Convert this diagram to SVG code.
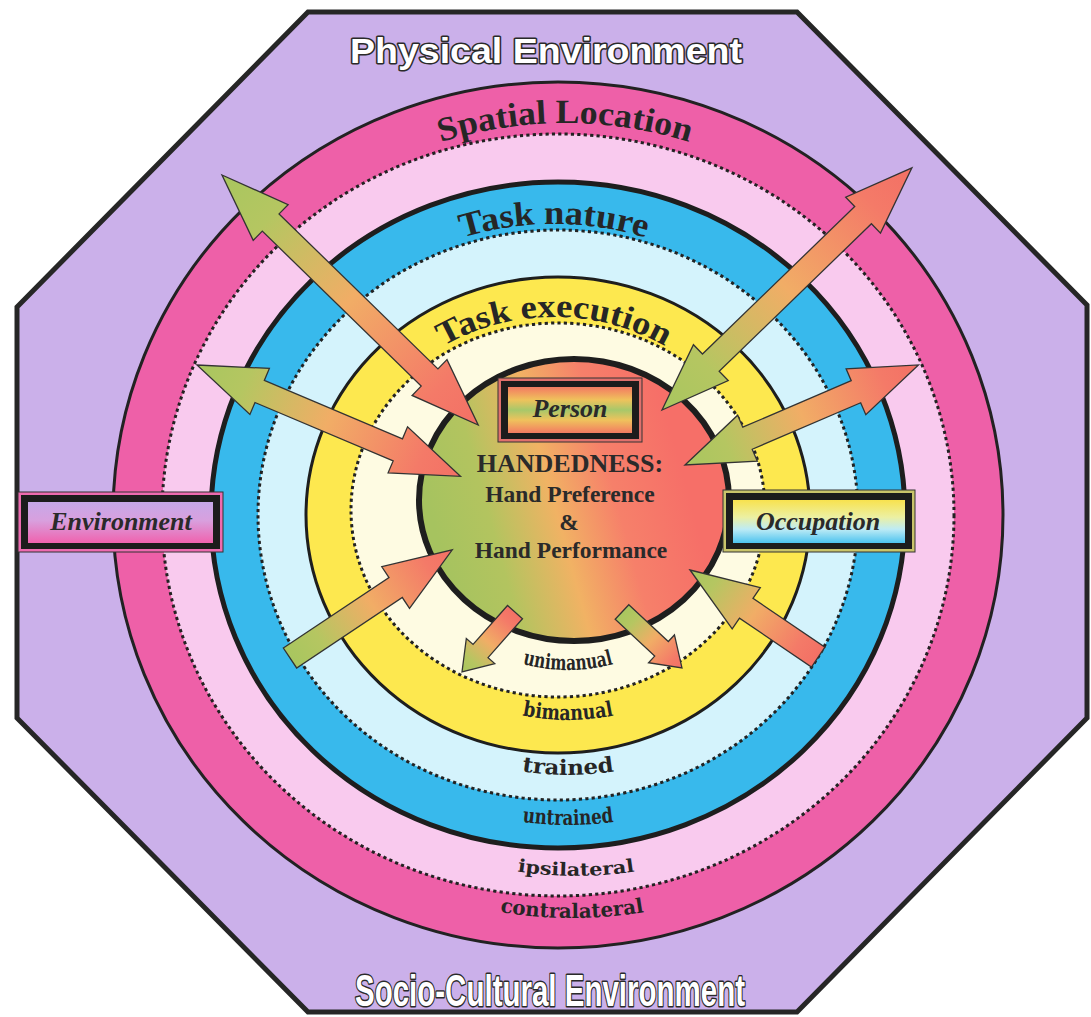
<svg xmlns="http://www.w3.org/2000/svg" width="1091" height="1017" viewBox="0 0 1091 1017">
<defs>
<style>
.dot{fill:none;stroke:#222;stroke-width:3;stroke-dasharray:3.2 3.2}
.ring{font-family:"Liberation Serif","Times New Roman",serif;font-weight:bold;fill:#262626}
.lbl{font-family:"DejaVu Serif","Liberation Serif",serif;font-weight:bold;fill:#262626}
.ctr{font-family:"Liberation Serif","Times New Roman",serif;font-weight:bold;fill:#2a2a2a;text-anchor:middle}
.box{font-family:"Liberation Serif","Times New Roman",serif;font-weight:bold;font-style:italic;fill:#2a2a2a;text-anchor:middle;font-size:26px}
.title{font-family:"Liberation Sans",Arial,sans-serif;font-weight:bold;fill:#fff;stroke:#2a2a2a;stroke-width:3;paint-order:stroke;stroke-linejoin:round}
.arrow{fill:url(#arrowGrad);stroke:#333;stroke-width:1.3;stroke-linejoin:miter}
</style>
<linearGradient id="arrowGrad" x1="0" y1="0" x2="1" y2="0">
<stop offset="0" stop-color="#A8C65F"/>
<stop offset="0.18" stop-color="#B5C661"/>
<stop offset="0.5" stop-color="#F1AD66"/>
<stop offset="0.85" stop-color="#F47A68"/>
<stop offset="1" stop-color="#F37065"/>
</linearGradient>
<linearGradient id="circleGrad" x1="0.05" y1="0.6" x2="0.85" y2="0.4">
<stop offset="0" stop-color="#A6C35F"/>
<stop offset="0.22" stop-color="#B3C45F"/>
<stop offset="0.48" stop-color="#F1B264"/>
<stop offset="0.72" stop-color="#F6806A"/>
<stop offset="1" stop-color="#F66F68"/>
</linearGradient>
<linearGradient id="personGrad" x1="0" y1="0" x2="0" y2="1">
<stop offset="0" stop-color="#F37A62"/>
<stop offset="0.28" stop-color="#EFC25C"/>
<stop offset="0.5" stop-color="#A7C86A"/>
<stop offset="0.72" stop-color="#EFC25C"/>
<stop offset="1" stop-color="#F37A62"/>
</linearGradient>
<linearGradient id="envGrad" x1="0" y1="0" x2="0" y2="1">
<stop offset="0" stop-color="#C6A8E8"/>
<stop offset="0.45" stop-color="#D8A0DE"/>
<stop offset="1" stop-color="#F062AE"/>
</linearGradient>
<linearGradient id="occGrad" x1="0" y1="0" x2="0" y2="1">
<stop offset="0" stop-color="#F8E24E"/>
<stop offset="0.4" stop-color="#ECF0A2"/>
<stop offset="0.68" stop-color="#BDEBF5"/>
<stop offset="1" stop-color="#4CC3EF"/>
</linearGradient>
<path id="pSpatial" d="M161,515 A404,392 0 0 1 969,515"/>
<path id="pNature" d="M251,515 A303,291 0 0 1 857,515"/>
<path id="pExec" d="M342,515 A212,198 0 0 1 766,515"/>
<path id="pUni" d="M403,515 A165,155 0 0 0 733,515"/>
<path id="pBi" d="M351,515 A217,205 0 0 0 785,515"/>
<path id="pTr" d="M294,515 A274,260 0 0 0 842,515"/>
<path id="pUntr" d="M243,515 A325,310 0 0 0 893,515"/>
<path id="pIpsi" d="M199,515 A377,361 0 0 0 953,515"/>
<path id="pContra" d="M155,515 A417,403 0 0 0 989,515"/>
</defs>

<g id="physical-environment">
<polygon points="308,12 797,12 1087,305 1087,718 797,1012 308,1012 17,718 17,307" fill="#CBB0EA" stroke="#262626" stroke-width="5" stroke-linejoin="miter"/>
<text class="title" x="546" y="63" font-size="35" text-anchor="middle" textLength="392" lengthAdjust="spacingAndGlyphs">Physical Environment</text>
<text class="title" x="550" y="1006" font-size="45" text-anchor="middle" textLength="390" lengthAdjust="spacingAndGlyphs">Socio-Cultural Environment</text>
</g>

<g id="spatial-location">
<ellipse cx="558" cy="515" rx="445" ry="433" fill="#EE60A8" stroke="#222" stroke-width="3"/>
<ellipse cx="558" cy="515" rx="396" ry="381" fill="#F9CAEE"/>
<ellipse class="dot" cx="558" cy="515" rx="396" ry="381"/>
<text class="ring" font-size="34"><textPath href="#pSpatial" startOffset="50%" text-anchor="middle" textLength="252" lengthAdjust="spacingAndGlyphs">Spatial Location</textPath></text>
<text class="lbl" font-size="18"><textPath href="#pIpsi" startOffset="50%" text-anchor="middle" textLength="118" lengthAdjust="spacingAndGlyphs">ipsilateral</textPath></text>
<text class="lbl" font-size="20"><textPath href="#pContra" startOffset="50%" text-anchor="middle" textLength="145" lengthAdjust="spacingAndGlyphs">contralateral</textPath></text>
</g>

<g id="task-nature">
<ellipse cx="558" cy="515" rx="347" ry="333" fill="#38B9EC" stroke="#1e1e1e" stroke-width="5"/>
<ellipse cx="558" cy="515" rx="300" ry="285" fill="#D4F3FC"/>
<ellipse class="dot" cx="558" cy="515" rx="300" ry="285"/>
<text class="ring" font-size="34"><textPath href="#pNature" startOffset="50%" text-anchor="middle" textLength="186" lengthAdjust="spacingAndGlyphs">Task nature</textPath></text>
<text class="lbl" font-size="21"><textPath href="#pTr" startOffset="50%" text-anchor="middle" textLength="93" lengthAdjust="spacingAndGlyphs">trained</textPath></text>
<text class="lbl" font-size="21"><textPath href="#pUntr" startOffset="50%" text-anchor="middle" textLength="92" lengthAdjust="spacingAndGlyphs">untrained</textPath></text>
</g>

<g id="task-execution">
<ellipse cx="558" cy="515" rx="252" ry="238" fill="#FDE84F" stroke="#1e1e1e" stroke-width="3"/>
<ellipse cx="558" cy="510" rx="207" ry="187" fill="#FEFBE2"/>
<ellipse class="dot" cx="558" cy="510" rx="207" ry="187"/>
<text class="ring" font-size="33"><textPath href="#pExec" startOffset="50%" text-anchor="middle" textLength="232" lengthAdjust="spacingAndGlyphs">Task execution</textPath></text>
<text class="lbl" font-size="21"><textPath href="#pUni" startOffset="50%" text-anchor="middle" textLength="92" lengthAdjust="spacingAndGlyphs">unimanual</textPath></text>
<text class="lbl" font-size="21"><textPath href="#pBi" startOffset="50%" text-anchor="middle" textLength="92" lengthAdjust="spacingAndGlyphs">bimanual</textPath></text>
</g>

<g id="handedness">
<ellipse cx="574" cy="500" rx="155" ry="141" fill="url(#circleGrad)" stroke="#1e1e1e" stroke-width="6"/>
<text class="ctr" x="570" y="472" font-size="26">HANDEDNESS:</text>
<text class="ctr" x="570" y="502" font-size="23.5">Hand Preference</text>
<text class="ctr" x="569" y="530" font-size="23.5">&amp;</text>
<text class="ctr" x="571" y="558" font-size="23.5">Hand Performance</text>
</g>

<g id="connectors">
<polygon class="arrow" transform="translate(222,175) rotate(44.3)" points="0,0 68,-25 68,-12 290,-12 290,-25 358,0 290,25 290,12 68,12 68,25"/>
<polygon class="arrow" transform="translate(197,365) rotate(22.9)" points="0,0 68,-25 68,-12 218,-12 218,-25 286,0 218,25 218,12 68,12 68,25"/>
<polygon class="arrow" transform="translate(290,658) rotate(-33.7)" points="0,-12 127,-12 127,-25 195,0 127,25 127,12 0,12"/>
<polygon class="arrow" transform="translate(662,410) rotate(-44.1)" points="0,0 68,-25 68,-12 280,-12 280,-25 348,0 280,25 280,12 68,12 68,25"/>
<polygon class="arrow" transform="translate(685,465) rotate(-23.2)" points="0,0 68,-25 68,-12 186,-12 186,-25 254,0 186,25 186,12 68,12 68,25"/>
<polygon class="arrow" transform="translate(690,570) rotate(34.2)" points="0,0 68,-25 68,-12 155,-12 155,12 68,12 68,25"/>
<polygon class="arrow" transform="translate(462,672) rotate(-48.5)" points="0,0 28,-19 28,-10 80,-10 80,10 28,10 28,19"/>
<polygon class="arrow" transform="translate(622,612) rotate(43)" points="0,-10 54,-10 54,-19 82,0 54,19 54,10 0,10"/>
</g>

<g id="person">
<rect x="498" y="378" width="144" height="64" fill="#E0706C" stroke="#333" stroke-width="1"/>
<rect x="501" y="381" width="138" height="58" fill="#1c1c1c"/>
<rect x="508" y="387" width="124" height="46" fill="url(#personGrad)"/>
<text class="box" x="570" y="417">Person</text>
</g>

<g id="environment">
<rect x="18" y="492" width="205" height="60" fill="#EE6AB0" stroke="#333" stroke-width="1"/>
<rect x="21" y="495" width="199" height="54" fill="#1c1c1c"/>
<rect x="28" y="502" width="185" height="41" fill="url(#envGrad)"/>
<text class="box" x="121" y="530">Environment</text>
</g>

<g id="occupation">
<rect x="723" y="490" width="192" height="62" fill="#C9C46A" stroke="#333" stroke-width="1"/>
<rect x="726" y="493" width="186" height="56" fill="#1c1c1c"/>
<rect x="733" y="500" width="172" height="43" fill="url(#occGrad)"/>
<text class="box" x="818" y="530">Occupation</text>
</g>
</svg>
